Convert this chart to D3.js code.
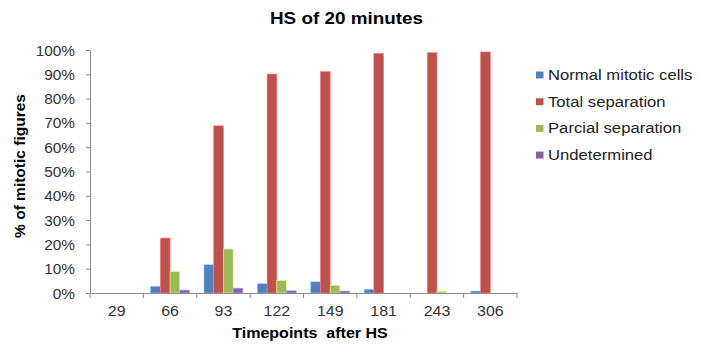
<!DOCTYPE html>
<html>
<head>
<meta charset="utf-8">
<script src="https://cdn.jsdelivr.net/npm/d3@7"></script>
<style>
  body { margin: 0; background: #fff; }
  text { font-family: "Liberation Sans", Arial, sans-serif; }
</style>
</head>
<body>
<div class="chart"></div>
<script>
// timepoints after HS (minutes)
var timepoints = ["29", "66", "93", "122", "149", "181", "243", "306"];
var seriesNames = ["Normal mitotic cells", "Total separation", "Parcial separation", "Undetermined"];
var seriesColors = ["#4F81BD", "#C0504D", "#9BBB59", "#8064A2"];
// % of mitotic figures, one array per series
var normalCells  = [0, 2.7, 11.6, 3.8, 4.6, 1.5, 0, 0.8];
var totalSep     = [0, 22.6, 68.8, 90.1, 91.1, 98.6, 98.9, 99.2];
var parcialSep   = [0, 8.8, 18.1, 5.2, 3.2, 0, 0.7, 0];
var undetermined = [0, 1.2, 2.0, 0.9, 0.8, 0, 0, 0];
var yTicks = [0, 10, 20, 30, 40, 50, 60, 70, 80, 90, 100];

var allSeries = [normalCells, totalSep, parcialSep, undetermined];

var w = 710, h = 345;
var plotLeft = 90, plotRight = 517, plotTop = 50, plotBottom = 293;

var svg = d3.select(".chart").append("svg")
  .attr("width", w)
  .attr("height", h);

// the source picture is a bit wider than tall, so text gets stretched sideways
function stretched(x, y, sx) {
  return "translate(" + x + "," + y + ") scale(" + sx + ",1)";
}

var x0 = d3.scaleBand()
  .domain(timepoints)
  .range([plotLeft, plotRight]);

var bw = x0.bandwidth();
var x1 = d3.scaleBand()
  .domain(d3.range(seriesNames.length))
  .range([bw * 0.136, bw * 0.864]);

var y = d3.scaleLinear()
  .domain([0, 100])
  .range([plotBottom, plotTop]);

// title
svg.append("text")
  .attr("transform", stretched(270, 24, 1.18))
  .attr("font-size", 16).attr("font-weight", "bold")
  .attr("fill", "#000")
  .text("HS of 20 minutes");

// bars
var groups = svg.selectAll("g.grp")
  .data(timepoints)
  .enter().append("g")
  .attr("class", "grp")
  .attr("transform", function(d) { return "translate(" + x0(d) + ",0)"; });

groups.selectAll("rect")
  .data(function(d, i) {
    return allSeries.map(function(s, k) { return { k: k, v: s[i] }; })
      .filter(function(e) { return e.v > 0; });
  })
  .enter().append("rect")
  .attr("x", function(d) { return x1(d.k); })
  .attr("width", x1.bandwidth())
  .attr("y", function(d) { return y(d.v); })
  .attr("height", function(d) { return plotBottom - y(d.v); })
  .attr("fill", function(d) { return seriesColors[d.k]; })
  .attr("stroke", function(d) { return d3.color(seriesColors[d.k]).brighter(1.2); })
  .attr("stroke-width", 0.6);

// y axis
var yAxis = d3.axisLeft(y)
  .tickValues(yTicks)
  .tickSize(4)
  .tickSizeOuter(0)
  .tickFormat(function(d) { return d + "%"; });

var gy = svg.append("g")
  .attr("transform", "translate(" + plotLeft + ",0)")
  .call(yAxis);
gy.select(".domain").attr("stroke", "#8c8c8c");
gy.selectAll(".tick line").attr("stroke", "#8c8c8c");
gy.selectAll(".tick text")
  .attr("x", null).attr("dy", null)
  .attr("transform", stretched(-15, 5, 1.06))
  .attr("font-size", 14.5)
  .attr("font-family", "Liberation Sans, Arial, sans-serif")
  .attr("fill", "#333");

// x axis
var xAxis = d3.axisBottom(x0).tickSize(0).tickSizeOuter(0);
var gx = svg.append("g")
  .attr("transform", "translate(0," + plotBottom + ")")
  .call(xAxis);
gx.select(".domain").attr("stroke", "#8c8c8c");
gx.selectAll(".tick text")
  .attr("y", null).attr("dy", null)
  .attr("transform", stretched(0, 23, 1.1))
  .attr("font-size", 14.5)
  .attr("font-family", "Liberation Sans, Arial, sans-serif")
  .attr("fill", "#333");

// category boundary ticks
var bounds = timepoints.map(function(d) { return x0(d); }).concat([plotRight]);
svg.selectAll("line.bt")
  .data(bounds)
  .enter().append("line")
  .attr("class", "bt")
  .attr("x1", function(d) { return d; })
  .attr("x2", function(d) { return d; })
  .attr("y1", plotBottom)
  .attr("y2", plotBottom + 5)
  .attr("stroke", "#8c8c8c");

// axis titles
svg.append("text")
  .attr("transform", stretched(310, 338, 1.07))
  .attr("text-anchor", "middle")
  .attr("font-size", 15).attr("font-weight", "bold")
  .attr("fill", "#000")
  .attr("xml:space", "preserve")
  .text("Timepoints  after HS");

svg.append("text")
  .attr("transform", "translate(25,166) rotate(-90)")
  .attr("text-anchor", "middle")
  .attr("font-size", 15.5).attr("font-weight", "bold")
  .attr("fill", "#000")
  .text("% of mitotic figures");

// legend
var legend = svg.selectAll("g.leg")
  .data(seriesNames)
  .enter().append("g")
  .attr("class", "leg")
  .attr("transform", function(d, i) { return "translate(536," + (75 + i * 26.7) + ")"; });

legend.append("rect")
  .attr("x", 0).attr("y", -3.5)
  .attr("width", 7.5).attr("height", 7)
  .attr("fill", function(d, i) { return seriesColors[i]; });

legend.append("text")
  .attr("transform", stretched(12, 5, 1.15))
  .attr("font-size", 14.5)
  .attr("fill", "#222")
  .text(function(d) { return d; });
</script>
</body>
</html>
